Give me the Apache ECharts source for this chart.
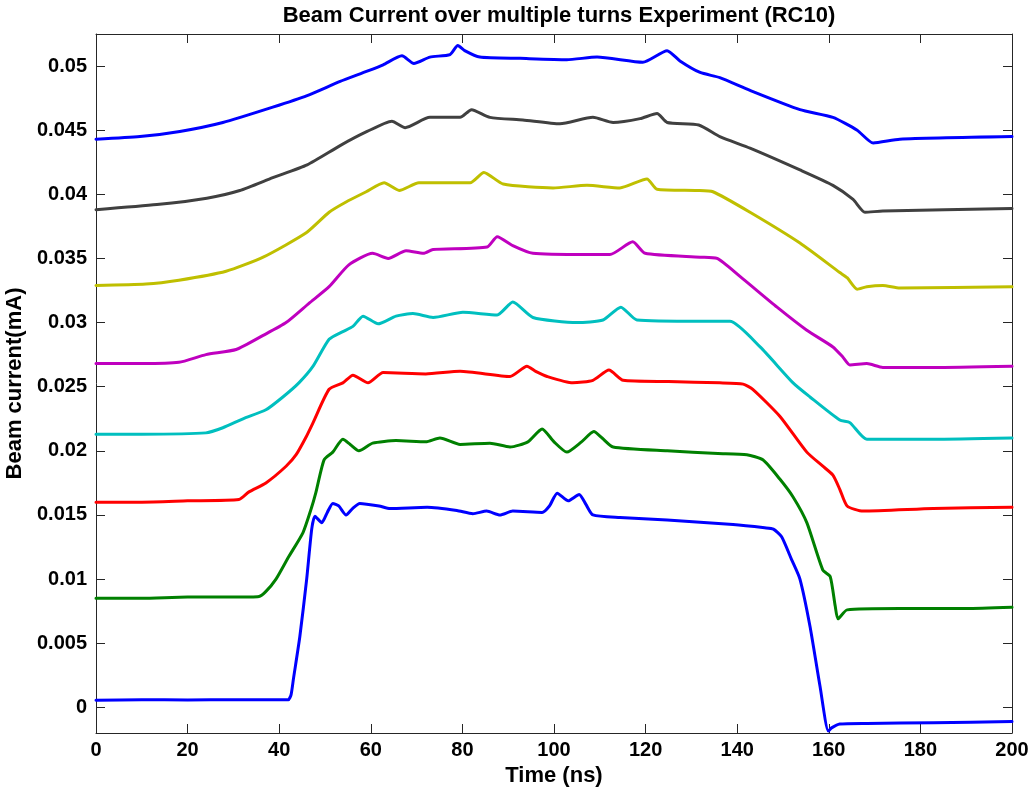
<!DOCTYPE html>
<html>
<head>
<meta charset="utf-8">
<script src="https://cdn.jsdelivr.net/npm/echarts@6/dist/echarts.min.js"></script>
<style>
html,body{margin:0;padding:0;background:#fff;}
#chart{width:1035px;height:790px;}
</style>
</head>
<body>
<div id="chart"></div>
<script>
// ---- data (time in ns, current in mA) ----
const xTicks = [0, 20, 40, 60, 80, 100, 120, 140, 160, 180, 200];
const yTicks = [0, 0.005, 0.01, 0.015, 0.02, 0.025, 0.03, 0.035, 0.04, 0.045, 0.05];

const turn1 = [[0,0.00055],[10,0.0006],[20,0.00058],[30,0.0006],[40,0.0006],[42,0.0006],[42.6,0.001],[43.1,0.0022],[44.5,0.0055],[46,0.01],[47.1,0.0139],[47.8,0.0149],[49.3,0.0144],[50.5,0.0152],[51.7,0.0159],[53,0.0157],[54.6,0.0150],[56,0.0155],[57.6,0.0159],[61.8,0.0157],[64.2,0.0155],[72.3,0.0156],[78.8,0.01535],[82.3,0.0151],[85.3,0.0153],[88.2,0.0150],[91,0.0153],[97.4,0.0152],[99,0.0157],[100.7,0.0167],[103.1,0.0161],[105.5,0.0166],[107,0.0158],[108.5,0.0150],[114.4,0.0148],[124.7,0.0146],[139.1,0.01425],[146,0.0140],[147.9,0.0139],[149.7,0.0133],[151.9,0.0115],[153.7,0.0100],[155.9,0.0063],[158.1,0.0016],[159.9,-0.00185],[160.6,-0.0016],[162.4,-0.0013],[168.3,-0.00125],[182.8,-0.0012],[200,-0.0011]];
const turn2 = [[0,0.0085],[10,0.0085],[20,0.0086],[30,0.0086],[35.6,0.00865],[37,0.0090],[39.3,0.0100],[42,0.0117],[45.2,0.01363],[47,0.0155],[48,0.01674],[49.8,0.0193],[51.7,0.0199],[53.9,0.0209],[55.5,0.0205],[57.4,0.0200],[60.4,0.0206],[65.5,0.0208],[72,0.0207],[75.1,0.0210],[79.5,0.0205],[86,0.0206],[90.4,0.0203],[94.3,0.0207],[97.4,0.0217],[100,0.0207],[102.8,0.0199],[106,0.0207],[108.7,0.0215],[110.5,0.0210],[112.9,0.0203],[124.7,0.0200],[135.8,0.0198],[142.1,0.0197],[145.6,0.0193],[149.3,0.0178],[152.2,0.0164],[155.2,0.0144],[158.7,0.0107],[160.3,0.0102],[161.4,0.0079],[162,0.0069],[164,0.0076],[175.5,0.0077],[190,0.0077],[200,0.0078]];
const turn3 = [[0,0.016],[10,0.016],[20,0.0161],[31.2,0.0162],[33.4,0.0168],[37.1,0.0175],[41.5,0.0188],[43.7,0.0197],[45.9,0.0211],[47.4,0.0222],[50.9,0.0248],[53.9,0.0253],[56.1,0.0259],[59.4,0.0253],[62.7,0.0261],[72,0.0260],[79.5,0.0262],[90.4,0.0258],[94.1,0.0266],[96,0.0262],[98.5,0.0258],[104.1,0.0253],[108.5,0.0255],[112,0.0263],[115.1,0.0255],[125,0.0254],[136.2,0.0253],[141.3,0.0252],[143.4,0.0248],[149.3,0.0227],[155.2,0.0199],[158.7,0.0188],[160.9,0.0181],[162.4,0.0170],[164,0.0157],[167.5,0.0153],[182.8,0.0155],[200,0.0156]];
const turn4 = [[0,0.0213],[10,0.0213],[24,0.0214],[27.7,0.0218],[32.1,0.0225],[37.1,0.0232],[40.8,0.0242],[44.3,0.0253],[47.4,0.0266],[50.9,0.0287],[53.9,0.0293],[56.1,0.0297],[58.3,0.0305],[61.6,0.0299],[65.5,0.0305],[69.2,0.0307],[73.6,0.0304],[80.1,0.0308],[87.6,0.0306],[91,0.0316],[95.4,0.0304],[105,0.0300],[110.7,0.0302],[114.6,0.0312],[118.1,0.0302],[131.9,0.0301],[138.4,0.0301],[145,0.0281],[152.2,0.0253],[155.9,0.0242],[162.4,0.0224],[164.6,0.0222],[168.3,0.0209],[182.8,0.0209],[200,0.0210]];
const turn5 = [[0,0.0268],[10,0.0268],[18.1,0.0269],[24,0.0275],[30.6,0.0279],[36.5,0.0290],[41.5,0.0300],[46.5,0.0315],[50.9,0.0328],[55.2,0.0345],[60.4,0.0354],[63.8,0.0350],[67.7,0.0356],[71.5,0.0354],[73.6,0.0357],[85.4,0.0359],[87.6,0.0367],[91,0.0360],[95.4,0.0354],[107.2,0.0353],[112.2,0.0353],[117.2,0.0363],[119.9,0.0354],[131.9,0.0351],[135.6,0.0350],[140.6,0.0336],[148.7,0.0312],[155.2,0.0294],[160.9,0.0281],[163.1,0.0273],[164.6,0.0267],[168.3,0.0268],[171.8,0.0265],[182.8,0.0265],[200,0.0266]];
const turn6 = [[0,0.0329],[10.9,0.0330],[18.1,0.0333],[28.4,0.0340],[36.5,0.0351],[45.9,0.0370],[50.9,0.0386],[54.6,0.0394],[59,0.0402],[62.9,0.0409],[66.2,0.0403],[70.5,0.0409],[81.7,0.0409],[84.7,0.0417],[88.9,0.0408],[99.8,0.0405],[107.2,0.0407],[114.4,0.0405],[120.3,0.0412],[122.5,0.0404],[131.2,0.0403],[134.7,0.0402],[142.8,0.0386],[153.7,0.0362],[162.4,0.0339],[164,0.0335],[166.2,0.0326],[168.3,0.0328],[171.8,0.0329],[175.5,0.0327],[200,0.0328]];
const turn7 = [[0,0.0388],[13.3,0.0392],[24.2,0.0397],[31.4,0.0403],[38.6,0.0413],[46.1,0.0423],[53.3,0.0438],[59.2,0.0449],[64.6,0.0457],[67.5,0.0452],[72.9,0.0460],[79.5,0.0460],[82,0.0466],[86,0.0460],[93.2,0.0458],[101.3,0.0455],[108.5,0.0460],[112.9,0.0456],[118.8,0.0459],[122.5,0.0463],[124.7,0.0456],[131.6,0.0454],[136.2,0.0445],[142.8,0.0436],[153.7,0.0419],[160.9,0.0407],[165.3,0.0396],[167.9,0.0386],[171.8,0.0387],[200,0.0389]];
const turn8 = [[0,0.0443],[9.6,0.0445],[18.3,0.0449],[27.7,0.0456],[38.6,0.0468],[46.1,0.0477],[53.3,0.0488],[59.2,0.0496],[62.7,0.0501],[66.8,0.0508],[69.4,0.0502],[72.9,0.0507],[77.3,0.0509],[79,0.0516],[80.5,0.0512],[83.8,0.0507],[92.6,0.0506],[102.8,0.0505],[109.4,0.0507],[119.4,0.0503],[124.7,0.0512],[127.5,0.0504],[131.9,0.0495],[136.2,0.0491],[142.8,0.0481],[153.7,0.0466],[160.9,0.0460],[166.2,0.0450],[169.7,0.0440],[175.5,0.0443],[200,0.0445]];

const seriesData = [turn1, turn2, turn3, turn4, turn5, turn6, turn7, turn8];
const seriesColors = ['#0000FF', '#008000', '#FF0000', '#00BFBF', '#BF00BF', '#BFBF00', '#404040', '#0000FF'];

const FONT = '"Liberation Sans", Arial, Helvetica, sans-serif';
const AXC = '#262626';

const chart = echarts.init(document.getElementById('chart'), null, {renderer: 'canvas'});

const baseX = {
  type: 'value', min: 0, max: 200, interval: 20,
  axisLine: {show: true, onZero: false, lineStyle: {color: AXC, width: 1}},
  axisTick: {show: true, inside: true, length: 9, lineStyle: {color: AXC}},
  splitLine: {show: false}
};
const baseY = {
  type: 'value', min: -0.002, max: 0.0525,
  axisLine: {show: true, onZero: false, lineStyle: {color: AXC, width: 1}},
  axisTick: {show: true, inside: true, length: 9, customValues: yTicks, lineStyle: {color: AXC}},
  splitLine: {show: false}
};

chart.setOption({
  animation: false,
  backgroundColor: '#ffffff',
  title: {
    text: 'Beam Current over multiple turns Experiment (RC10)',
    left: 554, top: 0, textAlign: 'center',
    textStyle: {fontFamily: FONT, fontWeight: 'bold', fontSize: 22, color: '#000'}
  },
  grid: {left: 96, right: 23, top: 34, bottom: 57, containLabel: false, outerBoundsMode: 'none'},
  xAxis: [
    Object.assign({}, baseX, {
      position: 'bottom',
      name: 'Time (ns)', nameLocation: 'middle', nameGap: 28,
      nameTextStyle: {fontFamily: FONT, fontWeight: 'bold', fontSize: 22, color: '#000'},
      axisLabel: {show: true, margin: 7, fontFamily: FONT, fontWeight: 'bold', fontSize: 20, color: '#000',
        customValues: xTicks}
    }),
    Object.assign({}, baseX, {position: 'top', axisLabel: {show: false}})
  ],
  yAxis: [
    Object.assign({}, baseY, {
      position: 'left',
      name: 'Beam current(mA)', nameLocation: 'middle', nameGap: 63,
      nameTextStyle: {fontFamily: FONT, fontWeight: 'bold', fontSize: 22, color: '#000'},
      axisLabel: {show: true, margin: 9, fontFamily: FONT, fontWeight: 'bold', fontSize: 20, color: '#000',
        customValues: yTicks, formatter: v => String(v)}
    }),
    Object.assign({}, baseY, {position: 'right', axisLabel: {show: false}})
  ],
  series: seriesData.map((d, i) => ({
    type: 'line', xAxisIndex: 0, yAxisIndex: 0,
    data: d, showSymbol: false, symbol: 'none',
    smooth: 0.2,
    lineStyle: {color: seriesColors[i], width: 3, join: 'round', cap: 'round'},
    itemStyle: {color: seriesColors[i]},
    clip: true, silent: true
  }))
});
</script>
</body>
</html>
